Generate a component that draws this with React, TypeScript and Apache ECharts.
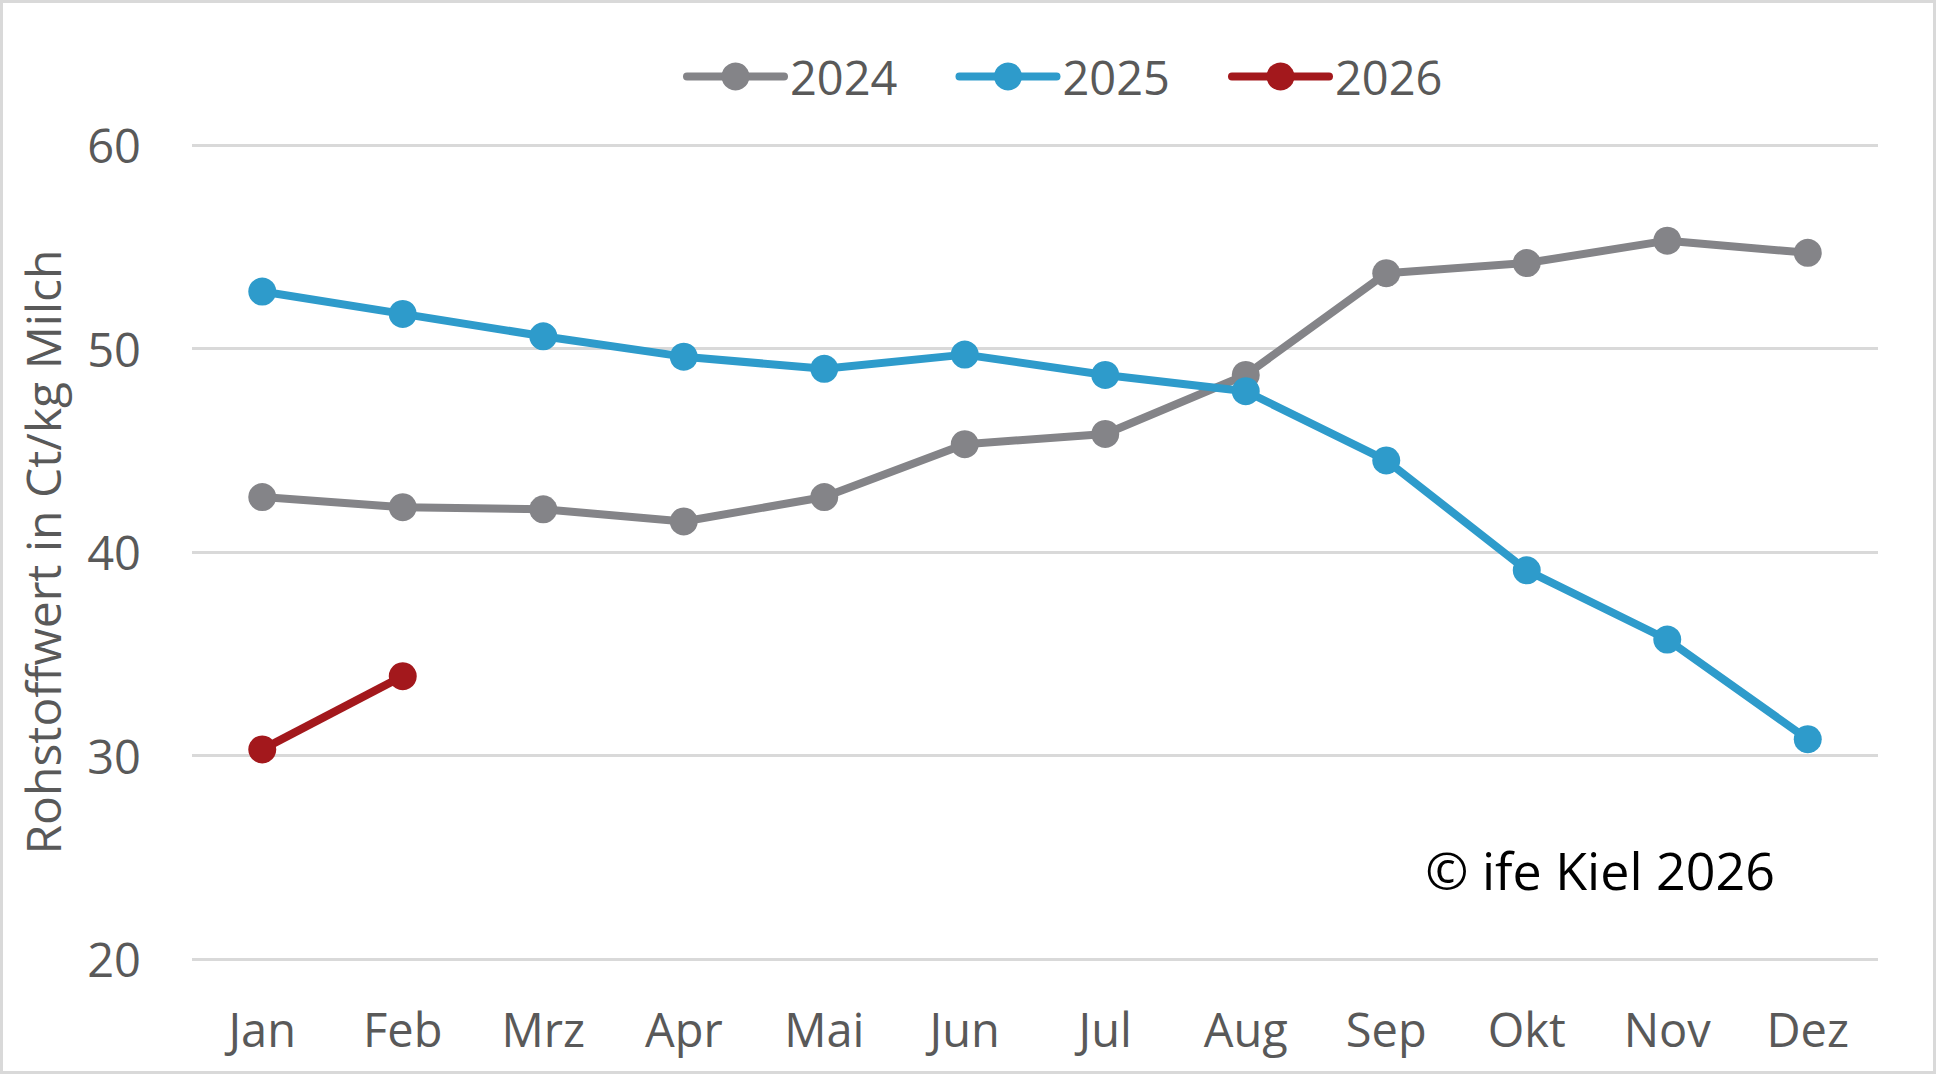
import React, { useEffect, useRef } from "react";
import * as echarts from "echarts";

const months = ["Jan", "Feb", "Mrz", "Apr", "Mai", "Jun", "Jul", "Aug", "Sep", "Okt", "Nov", "Dez"];
const values2024 = [42.7, 42.2, 42.1, 41.5, 42.7, 45.3, 45.8, 48.7, 53.7, 54.2, 55.3, 54.7];
const values2025 = [52.8, 51.7, 50.6, 49.6, 49.0, 49.7, 48.7, 47.9, 44.5, 39.1, 35.7, 30.8];
const values2026 = [30.3, 33.9];
const yTicks = { min: 20, max: 60, interval: 10 };
const seriesNames = ["2024", "2025", "2026"];
const seriesColors = ["#848488", "#2E9BCB", "#A3181C"];
const yAxisTitle = "Rohstoffwert in Ct/kg Milch";
const copyright = "© ife Kiel 2026";

const FONT = "'Open Sans', sans-serif";
const TEXT = "#595959";

export default function App() {
  const ref = useRef<HTMLDivElement>(null);
  useEffect(() => {
    if (!ref.current) return;
    const chart = echarts.init(ref.current, undefined, { renderer: "svg" });
    const dataSets = [values2024, values2025, values2026];
    chart.setOption({
      animation: false,
      backgroundColor: "#ffffff",
      grid: { left: 192, right: 60, top: 145, bottom: 116, containLabel: false },
      legend: {
        left: 678,
        top: 48,
        itemWidth: 97,
        itemHeight: 35,
        itemGap: 58,
        textStyle: { fontFamily: FONT, fontSize: 47, color: TEXT, padding: [0, 0, 0, 1] },
        lineStyle: { width: 8, cap: "round" },
        data: seriesNames,
      },
      xAxis: {
        type: "category",
        data: months,
        boundaryGap: true,
        axisLine: { show: false },
        axisTick: { show: false },
        axisLabel: { fontFamily: FONT, fontSize: 47, color: TEXT, margin: 46 },
      },
      yAxis: {
        type: "value",
        min: yTicks.min,
        max: yTicks.max,
        interval: yTicks.interval,
        name: yAxisTitle,
        nameLocation: "middle",
        nameGap: 126,
        nameTextStyle: { fontFamily: FONT, fontSize: 48, color: TEXT },
        axisLine: { show: false },
        axisTick: { show: false },
        axisLabel: { fontFamily: FONT, fontSize: 47, color: TEXT, margin: 51 },
        splitLine: { lineStyle: { color: "#d9d9d9", width: 3 } },
      },
      series: seriesNames.map((name, i) => ({
        name,
        type: "line",
        data: dataSets[i],
        symbol: "circle",
        symbolSize: 28,
        color: seriesColors[i],
        lineStyle: { width: 8, color: seriesColors[i] },
        itemStyle: { color: seriesColors[i] },
        z: 2 + i,
      })),
      graphic: [
        {
          type: "text",
          right: 163,
          top: 843,
          style: { text: copyright, fontFamily: FONT, fontSize: 52, fill: "#000000" },
        },
      ],
    });
    return () => chart.dispose();
  }, []);
  return (
    <div style={{ position: "fixed", left: 0, top: 0, width: 1938, height: 1075, background: "#fff" }}>
      <div ref={ref} style={{ position: "absolute", left: 0, top: 0, width: 1938, height: 1075 }} />
      <div
        style={{
          position: "absolute",
          left: 0,
          top: 0,
          width: 1936,
          height: 1074,
          boxSizing: "border-box",
          border: "3px solid #d9d9d9",
          pointerEvents: "none",
        }}
      />
    </div>
  );
}
